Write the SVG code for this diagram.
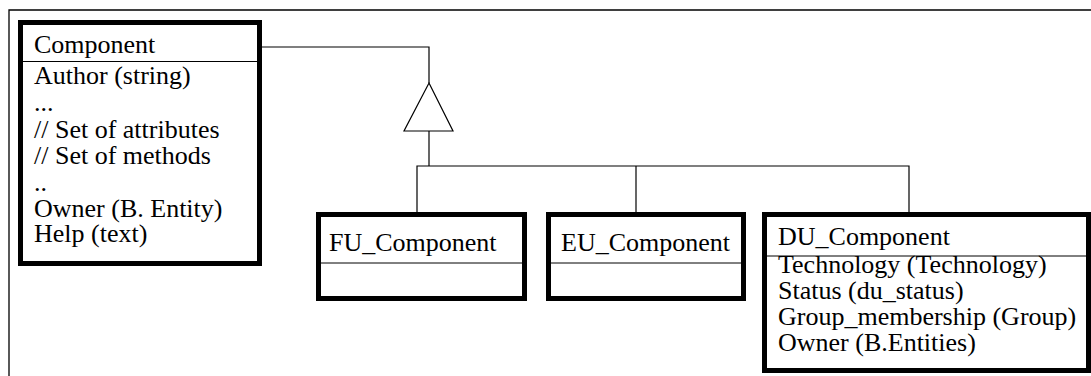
<svg xmlns="http://www.w3.org/2000/svg" width="1091" height="376" viewBox="0 0 1091 376">
  <style>
    .box { fill: #ffffff; stroke: #000000; stroke-width: 5; }
    .div { stroke: #000000; stroke-width: 1; fill: none; }
    .conn { stroke: #000000; stroke-width: 1.2; fill: none; }
    .frame { stroke: #000000; stroke-width: 1.3; fill: none; }
    text { font-family: "Liberation Serif", "Times New Roman", serif; font-size: 26px; fill: #000000; }
  </style>
  <rect width="1091" height="376" fill="#ffffff"/>
  <path class="frame" d="M9,376 V10 H1091"/>

  <g id="connectors">
    <path class="conn" d="M262,47 H429 V83"/>
    <polygon class="conn" points="429,83 453,131 404,131" fill="#ffffff"/>
    <path class="conn" d="M429,131 V166"/>
    <path class="conn" d="M417,212 V166 H909 V212"/>
    <path class="conn" d="M636,166 V212"/>
  </g>

  <g id="component">
    <rect class="box" x="20.5" y="22.5" width="239" height="241"/>
    <line class="div" x1="23" y1="61.5" x2="257" y2="61.5"/>
    <text x="34" y="53">Component</text>
    <text x="34" y="84">Author (string)</text>
    <text x="34" y="111">...</text>
    <text x="34" y="138">// Set of attributes</text>
    <text x="34" y="164">// Set of methods</text>
    <text x="34" y="191">..</text>
    <text x="34" y="217">Owner (B. Entity)</text>
    <text x="34" y="242">Help (text)</text>
  </g>

  <g id="fu_component">
    <rect class="box" x="318.5" y="214.5" width="206" height="84"/>
    <line class="div" x1="321" y1="263" x2="522" y2="263"/>
    <text x="329" y="251">FU_Component</text>
  </g>

  <g id="eu_component">
    <rect class="box" x="548.5" y="214.5" width="195" height="84"/>
    <line class="div" x1="551" y1="263" x2="742" y2="263"/>
    <text x="561" y="251">EU_Component</text>
  </g>

  <g id="du_component">
    <rect class="box" x="764.5" y="214.5" width="324" height="156"/>
    <line class="div" x1="767" y1="256" x2="1086" y2="256"/>
    <text x="778" y="245">DU_Component</text>
    <text x="778" y="273">Technology (Technology)</text>
    <text x="778" y="299">Status (du_status)</text>
    <text x="778" y="325">Group_membership (Group)</text>
    <text x="778" y="351">Owner (B.Entities)</text>
  </g>
</svg>
